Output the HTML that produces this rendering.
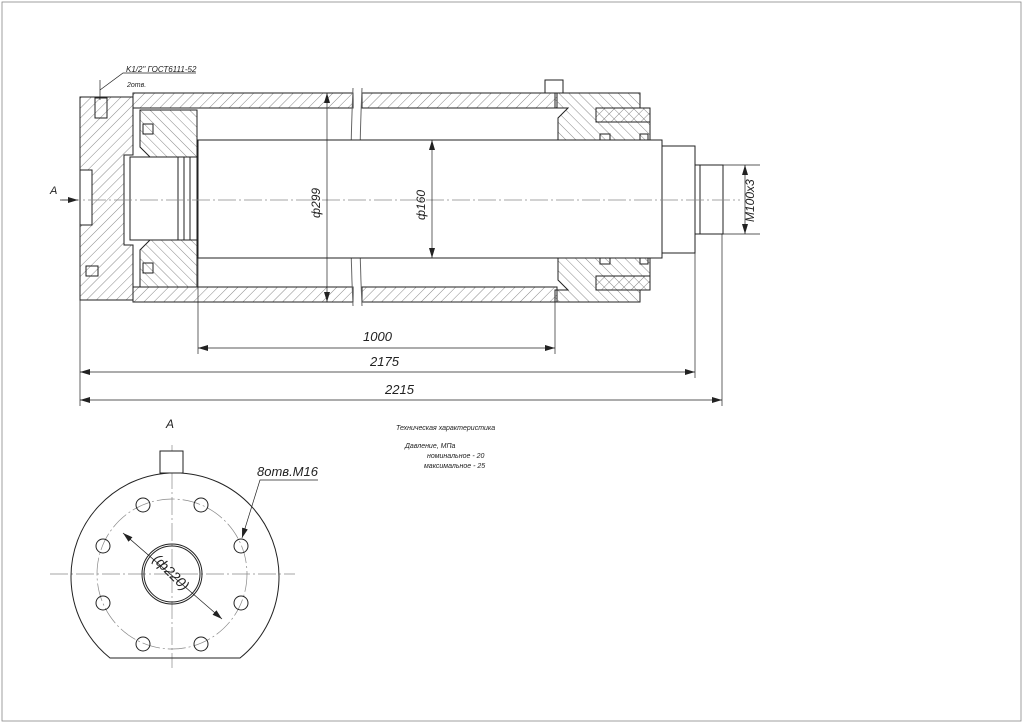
<!DOCTYPE html>
<html><head><meta charset="utf-8"><style>
body{margin:0;background:#fff}
svg{display:block}
text{font-family:"Liberation Sans",sans-serif;font-style:italic;fill:#222}
</style></head><body>
<svg width="1024" height="724" viewBox="0 0 1024 724" xmlns="http://www.w3.org/2000/svg">
<defs>
<pattern id="h1" width="7" height="7" patternUnits="userSpaceOnUse" patternTransform="rotate(45)"><line x1="0" y1="0" x2="0" y2="7" stroke="#555" stroke-width="0.7"/></pattern>
<pattern id="h2" width="7" height="7" patternUnits="userSpaceOnUse" patternTransform="rotate(-45)"><line x1="0" y1="0" x2="0" y2="7" stroke="#555" stroke-width="0.7"/></pattern>
<marker id="ar" markerWidth="10" markerHeight="6" refX="10" refY="3" orient="auto-start-reverse" markerUnits="userSpaceOnUse"><path d="M0,0 L10,3 L0,6z" fill="#222"/></marker>
</defs>
<rect x="2" y="2" width="1019" height="719" fill="none" stroke="#888" stroke-width="0.8"/>
<g stroke="#222" stroke-width="1" fill="none">
<!-- left cap -->
<path d="M80,97 H133 V155 H124 V245 H133 V300 H80Z" fill="url(#h1)"/>
<rect x="62" y="170" width="12" height="55" fill="#fff" transform="translate(18,0)"/>
<!-- tube walls -->
<rect x="133" y="93" width="220" height="15" fill="url(#h1)"/>
<rect x="362" y="93" width="195" height="15" fill="url(#h1)"/>
<rect x="133" y="287" width="220" height="15" fill="url(#h1)"/>
<rect x="362" y="287" width="195" height="15" fill="url(#h1)"/>
<path d="M353,88 Q348,200 353,306 M362,88 Q357,200 362,306" stroke="#666"/>
<!-- piston -->
<path d="M140,110 H197 V157 H150 L140,147Z" fill="url(#h2)"/>
<path d="M140,287 H197 V240 H150 L140,250Z" fill="url(#h2)"/>
<rect x="130" y="157" width="48" height="83" fill="#fff"/>
<rect x="178" y="157" width="19" height="83"/>
<line x1="184" y1="157" x2="184" y2="240"/><line x1="190" y1="157" x2="190" y2="240"/>
<rect x="143" y="124" width="10" height="10"/><rect x="143" y="263" width="10" height="10"/>
<rect x="86" y="266" width="12" height="10"/>
<rect x="95" y="98" width="12" height="20"/>
<!-- rod -->
<rect x="198" y="140" width="464" height="118" fill="#fff"/>
<rect x="662" y="146" width="33" height="107" fill="#fff"/>
<rect x="695" y="165" width="28" height="69" fill="#fff"/>
<line x1="700" y1="165" x2="700" y2="234"/>
<!-- gland -->
<path d="M555,93 H640 V108 H650 V140 H558 V118 L568,108 H555Z" fill="url(#h2)"/>
<path d="M555,302 H640 V290 H650 V258 H558 V280 L568,290 H555Z" fill="url(#h2)"/>
<path d="M596,108 H650 V122 H596Z" fill="url(#h1)"/>
<path d="M596,290 H650 V276 H596Z" fill="url(#h1)"/>
<rect x="545" y="80" width="18" height="13" fill="#fff"/>
<rect x="600" y="134" width="10" height="6"/><rect x="600" y="258" width="10" height="6"/>
<rect x="640" y="134" width="8" height="6"/><rect x="640" y="258" width="8" height="6"/>
</g>
<!-- centerlines -->
<g stroke="#888" stroke-width="0.7" stroke-dasharray="18,3,2,3">
<line x1="62" y1="200" x2="740" y2="200"/>
<line x1="50" y1="574" x2="295" y2="574"/>
<line x1="172" y1="445" x2="172" y2="668"/>
<circle cx="172" cy="574" r="75" fill="none"/>
</g>
<!-- dimensions -->
<g stroke="#222" stroke-width="0.7" fill="none">
<line x1="327" y1="93" x2="327" y2="302" marker-start="url(#ar)" marker-end="url(#ar)"/>
<line x1="432" y1="140" x2="432" y2="258" marker-start="url(#ar)" marker-end="url(#ar)"/>
<line x1="745" y1="165" x2="745" y2="234" marker-start="url(#ar)" marker-end="url(#ar)"/>
<line x1="723" y1="165" x2="760" y2="165"/><line x1="723" y1="234" x2="760" y2="234"/>
<line x1="198" y1="258" x2="198" y2="354"/><line x1="555" y1="302" x2="555" y2="354"/>
<line x1="80" y1="300" x2="80" y2="406"/><line x1="695" y1="253" x2="695" y2="378"/><line x1="722" y1="234" x2="722" y2="406"/>
<line x1="198" y1="348" x2="555" y2="348" marker-start="url(#ar)" marker-end="url(#ar)"/>
<line x1="80" y1="372" x2="695" y2="372" marker-start="url(#ar)" marker-end="url(#ar)"/>
<line x1="80" y1="400" x2="722" y2="400" marker-start="url(#ar)" marker-end="url(#ar)"/>
<line x1="60" y1="200" x2="78" y2="200" marker-end="url(#ar)"/>
<path d="M100,90 L123,73 H196"/>
<line x1="100" y1="80" x2="100" y2="100"/>
<path d="M242,538 L260,480 H318" marker-start="url(#ar)"/>
<line x1="123" y1="533" x2="222" y2="619" marker-start="url(#ar)" marker-end="url(#ar)"/>
</g>
<text x="363" y="341" font-size="13">1000</text>
<text x="370" y="366" font-size="13">2175</text>
<text x="385" y="394" font-size="13">2215</text>
<text x="50" y="194" font-size="11">A</text>
<text transform="translate(320,218) rotate(-90)" font-size="12">ф299</text>
<text transform="translate(425,220) rotate(-90)" font-size="12">ф160</text>
<text transform="translate(754,222) rotate(-90)" font-size="12">M100x3</text>
<text x="126" y="72" font-size="8">K1/2" ГОСТ6111-52</text>
<text x="127" y="87" font-size="7">2отв.</text>
<text x="166" y="428" font-size="12">A</text>
<text x="257" y="476" font-size="13">8отв.M16</text>
<text x="396" y="430" font-size="7">Техническая характеристика</text>
<text x="405" y="448" font-size="7">Давление, МПа</text>
<text x="427" y="458" font-size="7">номинальное  -  20</text>
<text x="424" y="468" font-size="7">максимальное -  25</text>
<text transform="translate(152,560) rotate(45)" font-size="14">(ф220)</text>
<!-- end view -->
<g stroke="#222" stroke-width="1" fill="none">
<path d="M110,658 A104,104 0 1 1 240,658 Z"/>
<rect x="160" y="451" width="23" height="22" fill="#fff"/>
<circle cx="172" cy="574" r="30"/><circle cx="172" cy="574" r="28"/>
<circle cx="143" cy="505" r="7"/><circle cx="201" cy="505" r="7"/>
<circle cx="241" cy="546" r="7"/><circle cx="241" cy="603" r="7"/>
<circle cx="201" cy="644" r="7"/><circle cx="143" cy="644" r="7"/>
<circle cx="103" cy="603" r="7"/><circle cx="103" cy="546" r="7"/>
</g>
</svg>
</body></html>
